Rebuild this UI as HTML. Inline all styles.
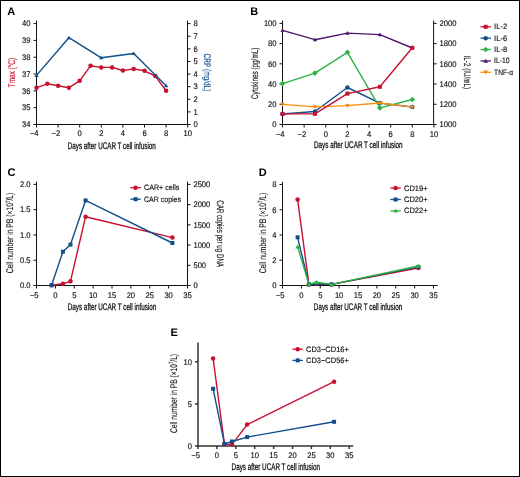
<!DOCTYPE html>
<html><head><meta charset="utf-8"><style>
html,body{margin:0;padding:0;background:#fff;}
svg{display:block;font-family:"Liberation Sans",sans-serif;will-change:transform;text-rendering:geometricPrecision;}
</style></head><body>
<svg width="520" height="477" viewBox="0 0 520 477">
<rect x="0" y="0" width="520" height="477" fill="#fff"/>
<rect x="0.5" y="0.5" width="519" height="476" fill="none" stroke="#000" stroke-width="1"/>
<text x="7.30" y="14.70" font-size="11" text-anchor="start" fill="#000" font-weight="bold">A</text>
<line x1="36.50" y1="20.70" x2="36.50" y2="125.00" stroke="#111" stroke-width="1.0"/>
<line x1="36.00" y1="124.50" x2="188.00" y2="124.50" stroke="#111" stroke-width="1.0"/>
<line x1="187.50" y1="20.70" x2="187.50" y2="125.00" stroke="#111" stroke-width="1.0"/>
<line x1="36.50" y1="124.50" x2="36.50" y2="127.50" stroke="#111" stroke-width="1.0"/>
<text x="38.62" y="135.80" font-size="8.2" text-anchor="end" fill="#111" font-weight="normal" stroke="#111" stroke-width="0.15" textLength="8.69" lengthAdjust="spacingAndGlyphs">−4</text>
<line x1="58.10" y1="124.50" x2="58.10" y2="127.50" stroke="#111" stroke-width="1.0"/>
<text x="60.22" y="135.80" font-size="8.2" text-anchor="end" fill="#111" font-weight="normal" stroke="#111" stroke-width="0.15" textLength="8.69" lengthAdjust="spacingAndGlyphs">−2</text>
<line x1="79.70" y1="124.50" x2="79.70" y2="127.50" stroke="#111" stroke-width="1.0"/>
<text x="79.70" y="135.80" font-size="8.2" text-anchor="middle" fill="#111" font-weight="normal" stroke="#111" stroke-width="0.15" textLength="4.24" lengthAdjust="spacingAndGlyphs">0</text>
<line x1="101.30" y1="124.50" x2="101.30" y2="127.50" stroke="#111" stroke-width="1.0"/>
<text x="101.30" y="135.80" font-size="8.2" text-anchor="middle" fill="#111" font-weight="normal" stroke="#111" stroke-width="0.15" textLength="4.24" lengthAdjust="spacingAndGlyphs">2</text>
<line x1="122.90" y1="124.50" x2="122.90" y2="127.50" stroke="#111" stroke-width="1.0"/>
<text x="122.90" y="135.80" font-size="8.2" text-anchor="middle" fill="#111" font-weight="normal" stroke="#111" stroke-width="0.15" textLength="4.24" lengthAdjust="spacingAndGlyphs">4</text>
<line x1="144.50" y1="124.50" x2="144.50" y2="127.50" stroke="#111" stroke-width="1.0"/>
<text x="144.50" y="135.80" font-size="8.2" text-anchor="middle" fill="#111" font-weight="normal" stroke="#111" stroke-width="0.15" textLength="4.24" lengthAdjust="spacingAndGlyphs">6</text>
<line x1="166.10" y1="124.50" x2="166.10" y2="127.50" stroke="#111" stroke-width="1.0"/>
<text x="166.10" y="135.80" font-size="8.2" text-anchor="middle" fill="#111" font-weight="normal" stroke="#111" stroke-width="0.15" textLength="4.24" lengthAdjust="spacingAndGlyphs">8</text>
<line x1="187.70" y1="124.50" x2="187.70" y2="127.50" stroke="#111" stroke-width="1.0"/>
<text x="187.70" y="135.80" font-size="8.2" text-anchor="middle" fill="#111" font-weight="normal" stroke="#111" stroke-width="0.15" textLength="8.48" lengthAdjust="spacingAndGlyphs">10</text>
<line x1="33.50" y1="124.50" x2="36.50" y2="124.50" stroke="#111" stroke-width="1.0"/>
<text x="30.60" y="127.30" font-size="8.2" text-anchor="end" fill="#111" font-weight="normal" stroke="#111" stroke-width="0.15" textLength="8.48" lengthAdjust="spacingAndGlyphs">34</text>
<line x1="33.50" y1="107.68" x2="36.50" y2="107.68" stroke="#111" stroke-width="1.0"/>
<text x="30.60" y="110.48" font-size="8.2" text-anchor="end" fill="#111" font-weight="normal" stroke="#111" stroke-width="0.15" textLength="8.48" lengthAdjust="spacingAndGlyphs">35</text>
<line x1="33.50" y1="90.86" x2="36.50" y2="90.86" stroke="#111" stroke-width="1.0"/>
<text x="30.60" y="93.66" font-size="8.2" text-anchor="end" fill="#111" font-weight="normal" stroke="#111" stroke-width="0.15" textLength="8.48" lengthAdjust="spacingAndGlyphs">36</text>
<line x1="33.50" y1="74.04" x2="36.50" y2="74.04" stroke="#111" stroke-width="1.0"/>
<text x="30.60" y="76.84" font-size="8.2" text-anchor="end" fill="#111" font-weight="normal" stroke="#111" stroke-width="0.15" textLength="8.48" lengthAdjust="spacingAndGlyphs">37</text>
<line x1="33.50" y1="57.22" x2="36.50" y2="57.22" stroke="#111" stroke-width="1.0"/>
<text x="30.60" y="60.02" font-size="8.2" text-anchor="end" fill="#111" font-weight="normal" stroke="#111" stroke-width="0.15" textLength="8.48" lengthAdjust="spacingAndGlyphs">38</text>
<line x1="33.50" y1="40.40" x2="36.50" y2="40.40" stroke="#111" stroke-width="1.0"/>
<text x="30.60" y="43.20" font-size="8.2" text-anchor="end" fill="#111" font-weight="normal" stroke="#111" stroke-width="0.15" textLength="8.48" lengthAdjust="spacingAndGlyphs">39</text>
<line x1="33.50" y1="23.58" x2="36.50" y2="23.58" stroke="#111" stroke-width="1.0"/>
<text x="30.60" y="26.38" font-size="8.2" text-anchor="end" fill="#111" font-weight="normal" stroke="#111" stroke-width="0.15" textLength="8.48" lengthAdjust="spacingAndGlyphs">40</text>
<line x1="187.50" y1="124.50" x2="190.50" y2="124.50" stroke="#111" stroke-width="1.0"/>
<text x="193.40" y="127.30" font-size="8.2" text-anchor="start" fill="#111" font-weight="normal" stroke="#111" stroke-width="0.15" textLength="4.24" lengthAdjust="spacingAndGlyphs">0</text>
<line x1="187.50" y1="111.89" x2="190.50" y2="111.89" stroke="#111" stroke-width="1.0"/>
<text x="193.40" y="114.69" font-size="8.2" text-anchor="start" fill="#111" font-weight="normal" stroke="#111" stroke-width="0.15" textLength="4.24" lengthAdjust="spacingAndGlyphs">1</text>
<line x1="187.50" y1="99.28" x2="190.50" y2="99.28" stroke="#111" stroke-width="1.0"/>
<text x="193.40" y="102.08" font-size="8.2" text-anchor="start" fill="#111" font-weight="normal" stroke="#111" stroke-width="0.15" textLength="4.24" lengthAdjust="spacingAndGlyphs">2</text>
<line x1="187.50" y1="86.67" x2="190.50" y2="86.67" stroke="#111" stroke-width="1.0"/>
<text x="193.40" y="89.47" font-size="8.2" text-anchor="start" fill="#111" font-weight="normal" stroke="#111" stroke-width="0.15" textLength="4.24" lengthAdjust="spacingAndGlyphs">3</text>
<line x1="187.50" y1="74.06" x2="190.50" y2="74.06" stroke="#111" stroke-width="1.0"/>
<text x="193.40" y="76.86" font-size="8.2" text-anchor="start" fill="#111" font-weight="normal" stroke="#111" stroke-width="0.15" textLength="4.24" lengthAdjust="spacingAndGlyphs">4</text>
<line x1="187.50" y1="61.45" x2="190.50" y2="61.45" stroke="#111" stroke-width="1.0"/>
<text x="193.40" y="64.25" font-size="8.2" text-anchor="start" fill="#111" font-weight="normal" stroke="#111" stroke-width="0.15" textLength="4.24" lengthAdjust="spacingAndGlyphs">5</text>
<line x1="187.50" y1="48.84" x2="190.50" y2="48.84" stroke="#111" stroke-width="1.0"/>
<text x="193.40" y="51.64" font-size="8.2" text-anchor="start" fill="#111" font-weight="normal" stroke="#111" stroke-width="0.15" textLength="4.24" lengthAdjust="spacingAndGlyphs">6</text>
<line x1="187.50" y1="36.23" x2="190.50" y2="36.23" stroke="#111" stroke-width="1.0"/>
<text x="193.40" y="39.03" font-size="8.2" text-anchor="start" fill="#111" font-weight="normal" stroke="#111" stroke-width="0.15" textLength="4.24" lengthAdjust="spacingAndGlyphs">7</text>
<line x1="187.50" y1="23.62" x2="190.50" y2="23.62" stroke="#111" stroke-width="1.0"/>
<text x="193.40" y="26.42" font-size="8.2" text-anchor="start" fill="#111" font-weight="normal" stroke="#111" stroke-width="0.15" textLength="4.24" lengthAdjust="spacingAndGlyphs">8</text>
<text x="0" y="0" font-size="9.6" text-anchor="middle" fill="#c8102e" stroke="#c8102e" stroke-width="0.12" transform="translate(15.10 72.60) rotate(-90) scale(0.6685 1)">Tmax (°C)</text>
<text x="0" y="0" font-size="9.6" text-anchor="middle" fill="#104e8c" stroke="#104e8c" stroke-width="0.12" transform="translate(204.40 72.50) rotate(90) scale(0.6806 1)">CRP (mg/dL)</text>
<text x="0" y="0" font-size="9.6" text-anchor="middle" fill="#111" stroke="#111" stroke-width="0.3" transform="translate(111.80 148.50) scale(0.6537 1)">Days after UCAR T cell infusion</text>
<polyline points="36.50,87.70 47.30,83.80 58.10,85.80 68.90,87.70 79.70,80.80 90.50,65.80 101.30,67.40 112.10,67.40 122.90,70.50 133.70,68.90 144.50,70.80 155.30,76.00 166.10,90.80" fill="none" stroke="#c8102e" stroke-width="1.4" stroke-linejoin="round"/>
<circle cx="36.50" cy="87.70" r="2.25" fill="#c8102e"/>
<circle cx="47.30" cy="83.80" r="2.25" fill="#c8102e"/>
<circle cx="58.10" cy="85.80" r="2.25" fill="#c8102e"/>
<circle cx="68.90" cy="87.70" r="2.25" fill="#c8102e"/>
<circle cx="79.70" cy="80.80" r="2.25" fill="#c8102e"/>
<circle cx="90.50" cy="65.80" r="2.25" fill="#c8102e"/>
<circle cx="101.30" cy="67.40" r="2.25" fill="#c8102e"/>
<circle cx="112.10" cy="67.40" r="2.25" fill="#c8102e"/>
<circle cx="122.90" cy="70.50" r="2.25" fill="#c8102e"/>
<circle cx="133.70" cy="68.90" r="2.25" fill="#c8102e"/>
<circle cx="144.50" cy="70.80" r="2.25" fill="#c8102e"/>
<circle cx="155.30" cy="76.00" r="2.25" fill="#c8102e"/>
<circle cx="166.10" cy="90.80" r="2.25" fill="#c8102e"/>
<polyline points="36.50,75.40 68.90,37.70 101.30,57.80 133.70,53.50 166.10,85.80" fill="none" stroke="#104e8c" stroke-width="1.4" stroke-linejoin="round"/>
<polygon points="36.50,73.33 38.67,76.95 34.33,76.95" fill="#104e8c"/>
<polygon points="68.90,35.63 71.07,39.25 66.73,39.25" fill="#104e8c"/>
<polygon points="101.30,55.73 103.47,59.35 99.13,59.35" fill="#104e8c"/>
<polygon points="133.70,51.43 135.87,55.05 131.53,55.05" fill="#104e8c"/>
<polygon points="166.10,83.73 168.27,87.35 163.93,87.35" fill="#104e8c"/>
<text x="250.30" y="14.50" font-size="11" text-anchor="start" fill="#000" font-weight="bold">B</text>
<line x1="282.50" y1="20.60" x2="282.50" y2="125.00" stroke="#111" stroke-width="1.0"/>
<line x1="282.00" y1="124.50" x2="434.10" y2="124.50" stroke="#111" stroke-width="1.0"/>
<line x1="433.60" y1="20.60" x2="433.60" y2="125.00" stroke="#111" stroke-width="1.0"/>
<line x1="282.50" y1="124.50" x2="282.50" y2="127.50" stroke="#111" stroke-width="1.0"/>
<text x="284.62" y="136.60" font-size="8.2" text-anchor="end" fill="#111" font-weight="normal" stroke="#111" stroke-width="0.15" textLength="8.69" lengthAdjust="spacingAndGlyphs">−4</text>
<line x1="304.14" y1="124.50" x2="304.14" y2="127.50" stroke="#111" stroke-width="1.0"/>
<text x="306.26" y="136.60" font-size="8.2" text-anchor="end" fill="#111" font-weight="normal" stroke="#111" stroke-width="0.15" textLength="8.69" lengthAdjust="spacingAndGlyphs">−2</text>
<line x1="325.78" y1="124.50" x2="325.78" y2="127.50" stroke="#111" stroke-width="1.0"/>
<text x="325.78" y="136.60" font-size="8.2" text-anchor="middle" fill="#111" font-weight="normal" stroke="#111" stroke-width="0.15" textLength="4.24" lengthAdjust="spacingAndGlyphs">0</text>
<line x1="347.42" y1="124.50" x2="347.42" y2="127.50" stroke="#111" stroke-width="1.0"/>
<text x="347.42" y="136.60" font-size="8.2" text-anchor="middle" fill="#111" font-weight="normal" stroke="#111" stroke-width="0.15" textLength="4.24" lengthAdjust="spacingAndGlyphs">2</text>
<line x1="369.06" y1="124.50" x2="369.06" y2="127.50" stroke="#111" stroke-width="1.0"/>
<text x="369.06" y="136.60" font-size="8.2" text-anchor="middle" fill="#111" font-weight="normal" stroke="#111" stroke-width="0.15" textLength="4.24" lengthAdjust="spacingAndGlyphs">4</text>
<line x1="390.70" y1="124.50" x2="390.70" y2="127.50" stroke="#111" stroke-width="1.0"/>
<text x="390.70" y="136.60" font-size="8.2" text-anchor="middle" fill="#111" font-weight="normal" stroke="#111" stroke-width="0.15" textLength="4.24" lengthAdjust="spacingAndGlyphs">6</text>
<line x1="412.34" y1="124.50" x2="412.34" y2="127.50" stroke="#111" stroke-width="1.0"/>
<text x="412.34" y="136.60" font-size="8.2" text-anchor="middle" fill="#111" font-weight="normal" stroke="#111" stroke-width="0.15" textLength="4.24" lengthAdjust="spacingAndGlyphs">8</text>
<line x1="433.98" y1="124.50" x2="433.98" y2="127.50" stroke="#111" stroke-width="1.0"/>
<text x="433.98" y="136.60" font-size="8.2" text-anchor="middle" fill="#111" font-weight="normal" stroke="#111" stroke-width="0.15" textLength="8.48" lengthAdjust="spacingAndGlyphs">10</text>
<line x1="279.50" y1="124.50" x2="282.50" y2="124.50" stroke="#111" stroke-width="1.0"/>
<text x="276.60" y="127.30" font-size="8.2" text-anchor="end" fill="#111" font-weight="normal" stroke="#111" stroke-width="0.15" textLength="4.24" lengthAdjust="spacingAndGlyphs">0</text>
<line x1="279.50" y1="104.28" x2="282.50" y2="104.28" stroke="#111" stroke-width="1.0"/>
<text x="276.60" y="107.08" font-size="8.2" text-anchor="end" fill="#111" font-weight="normal" stroke="#111" stroke-width="0.15" textLength="8.48" lengthAdjust="spacingAndGlyphs">20</text>
<line x1="279.50" y1="84.06" x2="282.50" y2="84.06" stroke="#111" stroke-width="1.0"/>
<text x="276.60" y="86.86" font-size="8.2" text-anchor="end" fill="#111" font-weight="normal" stroke="#111" stroke-width="0.15" textLength="8.48" lengthAdjust="spacingAndGlyphs">40</text>
<line x1="279.50" y1="63.84" x2="282.50" y2="63.84" stroke="#111" stroke-width="1.0"/>
<text x="276.60" y="66.64" font-size="8.2" text-anchor="end" fill="#111" font-weight="normal" stroke="#111" stroke-width="0.15" textLength="8.48" lengthAdjust="spacingAndGlyphs">60</text>
<line x1="279.50" y1="43.62" x2="282.50" y2="43.62" stroke="#111" stroke-width="1.0"/>
<text x="276.60" y="46.42" font-size="8.2" text-anchor="end" fill="#111" font-weight="normal" stroke="#111" stroke-width="0.15" textLength="8.48" lengthAdjust="spacingAndGlyphs">80</text>
<line x1="279.50" y1="23.40" x2="282.50" y2="23.40" stroke="#111" stroke-width="1.0"/>
<text x="276.60" y="26.20" font-size="8.2" text-anchor="end" fill="#111" font-weight="normal" stroke="#111" stroke-width="0.15" textLength="12.72" lengthAdjust="spacingAndGlyphs">100</text>
<line x1="433.60" y1="124.50" x2="436.60" y2="124.50" stroke="#111" stroke-width="1.0"/>
<text x="439.50" y="127.30" font-size="8.2" text-anchor="start" fill="#111" font-weight="normal" stroke="#111" stroke-width="0.15" textLength="16.96" lengthAdjust="spacingAndGlyphs">1000</text>
<line x1="433.60" y1="104.28" x2="436.60" y2="104.28" stroke="#111" stroke-width="1.0"/>
<text x="439.50" y="107.08" font-size="8.2" text-anchor="start" fill="#111" font-weight="normal" stroke="#111" stroke-width="0.15" textLength="16.96" lengthAdjust="spacingAndGlyphs">1200</text>
<line x1="433.60" y1="84.06" x2="436.60" y2="84.06" stroke="#111" stroke-width="1.0"/>
<text x="439.50" y="86.86" font-size="8.2" text-anchor="start" fill="#111" font-weight="normal" stroke="#111" stroke-width="0.15" textLength="16.96" lengthAdjust="spacingAndGlyphs">1400</text>
<line x1="433.60" y1="63.84" x2="436.60" y2="63.84" stroke="#111" stroke-width="1.0"/>
<text x="439.50" y="66.64" font-size="8.2" text-anchor="start" fill="#111" font-weight="normal" stroke="#111" stroke-width="0.15" textLength="16.96" lengthAdjust="spacingAndGlyphs">1600</text>
<line x1="433.60" y1="43.62" x2="436.60" y2="43.62" stroke="#111" stroke-width="1.0"/>
<text x="439.50" y="46.42" font-size="8.2" text-anchor="start" fill="#111" font-weight="normal" stroke="#111" stroke-width="0.15" textLength="16.96" lengthAdjust="spacingAndGlyphs">1800</text>
<line x1="433.60" y1="23.40" x2="436.60" y2="23.40" stroke="#111" stroke-width="1.0"/>
<text x="439.50" y="26.20" font-size="8.2" text-anchor="start" fill="#111" font-weight="normal" stroke="#111" stroke-width="0.15" textLength="16.96" lengthAdjust="spacingAndGlyphs">2000</text>
<text x="0" y="0" font-size="9.6" text-anchor="middle" fill="#111" stroke="#111" stroke-width="0.12" transform="translate(257.80 73.40) rotate(-90) scale(0.6599 1)">Cytokines (pg/mL)</text>
<text x="0" y="0" font-size="9.6" text-anchor="middle" fill="#111" stroke="#111" stroke-width="0.12" transform="translate(463.80 72.40) rotate(90) scale(0.6562 1)">IL-2 (IU/mL)</text>
<text x="0" y="0" font-size="9.6" text-anchor="middle" fill="#111" stroke="#111" stroke-width="0.3" transform="translate(358.30 147.90) scale(0.6581 1)">Days after UCAR T cell infusion</text>
<polyline points="282.50,114.00 314.96,111.50 347.42,87.50 379.88,103.10 412.34,107.00" fill="none" stroke="#104e8c" stroke-width="1.4" stroke-linejoin="round"/>
<circle cx="282.50" cy="114.00" r="2.25" fill="#104e8c"/>
<circle cx="314.96" cy="111.50" r="2.25" fill="#104e8c"/>
<circle cx="347.42" cy="87.50" r="2.25" fill="#104e8c"/>
<circle cx="379.88" cy="103.10" r="2.25" fill="#104e8c"/>
<circle cx="412.34" cy="107.00" r="2.25" fill="#104e8c"/>
<polyline points="282.50,83.60 314.96,73.10 347.42,52.30 379.88,107.90 412.34,99.50" fill="none" stroke="#2db444" stroke-width="1.4" stroke-linejoin="round"/>
<polygon points="282.50,80.80 285.30,83.60 282.50,86.40 279.70,83.60" fill="#2db444"/>
<polygon points="314.96,70.30 317.76,73.10 314.96,75.90 312.16,73.10" fill="#2db444"/>
<polygon points="347.42,49.50 350.22,52.30 347.42,55.10 344.62,52.30" fill="#2db444"/>
<polygon points="379.88,105.10 382.68,107.90 379.88,110.70 377.08,107.90" fill="#2db444"/>
<polygon points="412.34,96.70 415.14,99.50 412.34,102.30 409.54,99.50" fill="#2db444"/>
<polyline points="282.50,30.30 314.96,39.70 347.42,33.10 379.88,34.60 412.34,48.00" fill="none" stroke="#4e1670" stroke-width="1.4" stroke-linejoin="round"/>
<polygon points="282.50,28.23 284.67,31.85 280.33,31.85" fill="#4e1670"/>
<polygon points="314.96,37.63 317.13,41.25 312.79,41.25" fill="#4e1670"/>
<polygon points="347.42,31.03 349.59,34.65 345.25,34.65" fill="#4e1670"/>
<polygon points="379.88,32.53 382.05,36.15 377.71,36.15" fill="#4e1670"/>
<polygon points="412.34,45.93 414.51,49.55 410.17,49.55" fill="#4e1670"/>
<polyline points="282.50,104.40 314.96,106.90 347.42,105.60 379.88,103.00 412.34,107.10" fill="none" stroke="#fb8c10" stroke-width="1.4" stroke-linejoin="round"/>
<polygon points="282.50,106.47 284.67,102.85 280.33,102.85" fill="#fb8c10"/>
<polygon points="314.96,108.97 317.13,105.35 312.79,105.35" fill="#fb8c10"/>
<polygon points="347.42,107.67 349.59,104.05 345.25,104.05" fill="#fb8c10"/>
<polygon points="379.88,105.07 382.05,101.45 377.71,101.45" fill="#fb8c10"/>
<polygon points="412.34,109.17 414.51,105.55 410.17,105.55" fill="#fb8c10"/>
<polyline points="282.50,113.90 314.96,113.90 347.42,93.60 379.88,86.80 412.34,47.80" fill="none" stroke="#c8102e" stroke-width="1.4" stroke-linejoin="round"/>
<rect x="280.50" y="111.90" width="4.00" height="4.00" fill="#c8102e"/>
<rect x="312.96" y="111.90" width="4.00" height="4.00" fill="#c8102e"/>
<rect x="345.42" y="91.60" width="4.00" height="4.00" fill="#c8102e"/>
<rect x="377.88" y="84.80" width="4.00" height="4.00" fill="#c8102e"/>
<rect x="410.34" y="45.80" width="4.00" height="4.00" fill="#c8102e"/>
<line x1="480.50" y1="26.80" x2="490.90" y2="26.80" stroke="#c8102e" stroke-width="1.3"/>
<rect x="483.70" y="24.80" width="4.00" height="4.00" fill="#c8102e"/>
<text x="494.10" y="29.30" font-size="7.8" text-anchor="start" fill="#111" font-weight="normal" stroke="#111" stroke-width="0.15" textLength="13.00" lengthAdjust="spacingAndGlyphs">IL-2</text>
<line x1="480.50" y1="38.18" x2="490.90" y2="38.18" stroke="#104e8c" stroke-width="1.3"/>
<circle cx="485.70" cy="38.18" r="2.25" fill="#104e8c"/>
<text x="494.10" y="40.68" font-size="7.8" text-anchor="start" fill="#111" font-weight="normal" stroke="#111" stroke-width="0.15" textLength="13.00" lengthAdjust="spacingAndGlyphs">IL-6</text>
<line x1="480.50" y1="49.56" x2="490.90" y2="49.56" stroke="#2db444" stroke-width="1.3"/>
<polygon points="485.70,46.76 488.50,49.56 485.70,52.36 482.90,49.56" fill="#2db444"/>
<text x="494.10" y="52.06" font-size="7.8" text-anchor="start" fill="#111" font-weight="normal" stroke="#111" stroke-width="0.15" textLength="13.00" lengthAdjust="spacingAndGlyphs">IL-8</text>
<line x1="480.50" y1="60.94" x2="490.90" y2="60.94" stroke="#4e1670" stroke-width="1.3"/>
<polygon points="485.70,58.64 488.12,62.66 483.28,62.66" fill="#4e1670"/>
<text x="494.10" y="63.44" font-size="7.8" text-anchor="start" fill="#111" font-weight="normal" stroke="#111" stroke-width="0.15" textLength="15.50" lengthAdjust="spacingAndGlyphs">IL-10</text>
<line x1="480.50" y1="72.32" x2="490.90" y2="72.32" stroke="#fb8c10" stroke-width="1.3"/>
<polygon points="485.70,74.62 488.12,70.60 483.28,70.60" fill="#fb8c10"/>
<text x="494.10" y="74.82" font-size="7.8" text-anchor="start" fill="#111" font-weight="normal" stroke="#111" stroke-width="0.15" textLength="19.00" lengthAdjust="spacingAndGlyphs">TNF-α</text>
<text x="7.50" y="175.50" font-size="11" text-anchor="start" fill="#000" font-weight="bold">C</text>
<line x1="36.50" y1="181.60" x2="36.50" y2="286.00" stroke="#111" stroke-width="1.0"/>
<line x1="36.00" y1="285.50" x2="188.00" y2="285.50" stroke="#111" stroke-width="1.0"/>
<line x1="187.50" y1="181.60" x2="187.50" y2="286.00" stroke="#111" stroke-width="1.0"/>
<line x1="36.50" y1="285.50" x2="36.50" y2="288.50" stroke="#111" stroke-width="1.0"/>
<text x="38.62" y="297.60" font-size="8.2" text-anchor="end" fill="#111" font-weight="normal" stroke="#111" stroke-width="0.15" textLength="8.69" lengthAdjust="spacingAndGlyphs">−5</text>
<line x1="55.38" y1="285.50" x2="55.38" y2="288.50" stroke="#111" stroke-width="1.0"/>
<text x="55.38" y="297.60" font-size="8.2" text-anchor="middle" fill="#111" font-weight="normal" stroke="#111" stroke-width="0.15" textLength="4.24" lengthAdjust="spacingAndGlyphs">0</text>
<line x1="74.25" y1="285.50" x2="74.25" y2="288.50" stroke="#111" stroke-width="1.0"/>
<text x="74.25" y="297.60" font-size="8.2" text-anchor="middle" fill="#111" font-weight="normal" stroke="#111" stroke-width="0.15" textLength="4.24" lengthAdjust="spacingAndGlyphs">5</text>
<line x1="93.12" y1="285.50" x2="93.12" y2="288.50" stroke="#111" stroke-width="1.0"/>
<text x="93.12" y="297.60" font-size="8.2" text-anchor="middle" fill="#111" font-weight="normal" stroke="#111" stroke-width="0.15" textLength="8.48" lengthAdjust="spacingAndGlyphs">10</text>
<line x1="112.00" y1="285.50" x2="112.00" y2="288.50" stroke="#111" stroke-width="1.0"/>
<text x="112.00" y="297.60" font-size="8.2" text-anchor="middle" fill="#111" font-weight="normal" stroke="#111" stroke-width="0.15" textLength="8.48" lengthAdjust="spacingAndGlyphs">15</text>
<line x1="130.88" y1="285.50" x2="130.88" y2="288.50" stroke="#111" stroke-width="1.0"/>
<text x="130.88" y="297.60" font-size="8.2" text-anchor="middle" fill="#111" font-weight="normal" stroke="#111" stroke-width="0.15" textLength="8.48" lengthAdjust="spacingAndGlyphs">20</text>
<line x1="149.75" y1="285.50" x2="149.75" y2="288.50" stroke="#111" stroke-width="1.0"/>
<text x="149.75" y="297.60" font-size="8.2" text-anchor="middle" fill="#111" font-weight="normal" stroke="#111" stroke-width="0.15" textLength="8.48" lengthAdjust="spacingAndGlyphs">25</text>
<line x1="168.62" y1="285.50" x2="168.62" y2="288.50" stroke="#111" stroke-width="1.0"/>
<text x="168.62" y="297.60" font-size="8.2" text-anchor="middle" fill="#111" font-weight="normal" stroke="#111" stroke-width="0.15" textLength="8.48" lengthAdjust="spacingAndGlyphs">30</text>
<line x1="187.50" y1="285.50" x2="187.50" y2="288.50" stroke="#111" stroke-width="1.0"/>
<text x="187.50" y="297.60" font-size="8.2" text-anchor="middle" fill="#111" font-weight="normal" stroke="#111" stroke-width="0.15" textLength="8.48" lengthAdjust="spacingAndGlyphs">35</text>
<line x1="33.50" y1="285.50" x2="36.50" y2="285.50" stroke="#111" stroke-width="1.0"/>
<text x="30.60" y="288.30" font-size="8.2" text-anchor="end" fill="#111" font-weight="normal" stroke="#111" stroke-width="0.15" textLength="10.60" lengthAdjust="spacingAndGlyphs">0.0</text>
<line x1="33.50" y1="260.22" x2="36.50" y2="260.22" stroke="#111" stroke-width="1.0"/>
<text x="30.60" y="263.02" font-size="8.2" text-anchor="end" fill="#111" font-weight="normal" stroke="#111" stroke-width="0.15" textLength="10.60" lengthAdjust="spacingAndGlyphs">0.5</text>
<line x1="33.50" y1="234.94" x2="36.50" y2="234.94" stroke="#111" stroke-width="1.0"/>
<text x="30.60" y="237.74" font-size="8.2" text-anchor="end" fill="#111" font-weight="normal" stroke="#111" stroke-width="0.15" textLength="10.60" lengthAdjust="spacingAndGlyphs">1.0</text>
<line x1="33.50" y1="209.66" x2="36.50" y2="209.66" stroke="#111" stroke-width="1.0"/>
<text x="30.60" y="212.46" font-size="8.2" text-anchor="end" fill="#111" font-weight="normal" stroke="#111" stroke-width="0.15" textLength="10.60" lengthAdjust="spacingAndGlyphs">1.5</text>
<line x1="33.50" y1="184.38" x2="36.50" y2="184.38" stroke="#111" stroke-width="1.0"/>
<text x="30.60" y="187.18" font-size="8.2" text-anchor="end" fill="#111" font-weight="normal" stroke="#111" stroke-width="0.15" textLength="10.60" lengthAdjust="spacingAndGlyphs">2.0</text>
<line x1="187.50" y1="285.50" x2="190.50" y2="285.50" stroke="#111" stroke-width="1.0"/>
<text x="193.40" y="288.30" font-size="8.2" text-anchor="start" fill="#111" font-weight="normal" stroke="#111" stroke-width="0.15" textLength="4.24" lengthAdjust="spacingAndGlyphs">0</text>
<line x1="187.50" y1="265.28" x2="190.50" y2="265.28" stroke="#111" stroke-width="1.0"/>
<text x="193.40" y="268.08" font-size="8.2" text-anchor="start" fill="#111" font-weight="normal" stroke="#111" stroke-width="0.15" textLength="12.72" lengthAdjust="spacingAndGlyphs">500</text>
<line x1="187.50" y1="245.06" x2="190.50" y2="245.06" stroke="#111" stroke-width="1.0"/>
<text x="193.40" y="247.86" font-size="8.2" text-anchor="start" fill="#111" font-weight="normal" stroke="#111" stroke-width="0.15" textLength="16.96" lengthAdjust="spacingAndGlyphs">1000</text>
<line x1="187.50" y1="224.84" x2="190.50" y2="224.84" stroke="#111" stroke-width="1.0"/>
<text x="193.40" y="227.64" font-size="8.2" text-anchor="start" fill="#111" font-weight="normal" stroke="#111" stroke-width="0.15" textLength="16.96" lengthAdjust="spacingAndGlyphs">1500</text>
<line x1="187.50" y1="204.62" x2="190.50" y2="204.62" stroke="#111" stroke-width="1.0"/>
<text x="193.40" y="207.42" font-size="8.2" text-anchor="start" fill="#111" font-weight="normal" stroke="#111" stroke-width="0.15" textLength="16.96" lengthAdjust="spacingAndGlyphs">2000</text>
<line x1="187.50" y1="184.40" x2="190.50" y2="184.40" stroke="#111" stroke-width="1.0"/>
<text x="193.40" y="187.20" font-size="8.2" text-anchor="start" fill="#111" font-weight="normal" stroke="#111" stroke-width="0.15" textLength="16.96" lengthAdjust="spacingAndGlyphs">2500</text>
<text x="0" y="0" font-size="9.6" text-anchor="middle" fill="#111" stroke="#111" stroke-width="0.12" transform="translate(13.20 233.00) rotate(-90) scale(0.7076 1)">Cell number in PB (×10<tspan font-size="6" dy="-3.6">7</tspan><tspan dy="3.6">/L)</tspan></text>
<text x="0" y="0" font-size="9.6" text-anchor="middle" fill="#111" stroke="#111" stroke-width="0.12" transform="translate(216.80 233.60) rotate(90) scale(0.6454 1)">CAR copies per ug DNA</text>
<text x="0" y="0" font-size="9.6" text-anchor="middle" fill="#111" stroke="#111" stroke-width="0.3" transform="translate(112.00 309.80) scale(0.6581 1)">Days after UCAR T cell infusion</text>
<polyline points="51.60,285.20 62.92,283.80 70.47,281.30 85.57,216.70 172.40,237.60" fill="none" stroke="#c8102e" stroke-width="1.4" stroke-linejoin="round"/>
<circle cx="51.60" cy="285.20" r="2.25" fill="#c8102e"/>
<circle cx="62.92" cy="283.80" r="2.25" fill="#c8102e"/>
<circle cx="70.47" cy="281.30" r="2.25" fill="#c8102e"/>
<circle cx="85.57" cy="216.70" r="2.25" fill="#c8102e"/>
<circle cx="172.40" cy="237.60" r="2.25" fill="#c8102e"/>
<polyline points="51.60,285.20 62.92,251.70 70.47,244.60 85.57,200.40 172.40,243.00" fill="none" stroke="#104e8c" stroke-width="1.4" stroke-linejoin="round"/>
<rect x="49.60" y="283.20" width="4.00" height="4.00" fill="#104e8c"/>
<rect x="60.92" y="249.70" width="4.00" height="4.00" fill="#104e8c"/>
<rect x="68.47" y="242.60" width="4.00" height="4.00" fill="#104e8c"/>
<rect x="83.57" y="198.40" width="4.00" height="4.00" fill="#104e8c"/>
<rect x="170.40" y="241.00" width="4.00" height="4.00" fill="#104e8c"/>
<line x1="130.40" y1="187.70" x2="140.80" y2="187.70" stroke="#c8102e" stroke-width="1.3"/>
<circle cx="135.60" cy="187.70" r="2.25" fill="#c8102e"/>
<text x="144.00" y="190.20" font-size="7.8" text-anchor="start" fill="#111" font-weight="normal" stroke="#111" stroke-width="0.15" textLength="35.40" lengthAdjust="spacingAndGlyphs">CAR+ cells</text>
<line x1="130.40" y1="199.20" x2="140.80" y2="199.20" stroke="#104e8c" stroke-width="1.3"/>
<rect x="133.60" y="197.20" width="4.00" height="4.00" fill="#104e8c"/>
<text x="144.00" y="201.70" font-size="7.8" text-anchor="start" fill="#111" font-weight="normal" stroke="#111" stroke-width="0.15" textLength="37.00" lengthAdjust="spacingAndGlyphs">CAR copies</text>
<text x="258.70" y="175.50" font-size="11" text-anchor="start" fill="#000" font-weight="bold">D</text>
<line x1="282.50" y1="181.70" x2="282.50" y2="286.00" stroke="#111" stroke-width="1.0"/>
<line x1="282.00" y1="285.50" x2="437.70" y2="285.50" stroke="#111" stroke-width="1.0"/>
<line x1="282.50" y1="285.50" x2="282.50" y2="288.50" stroke="#111" stroke-width="1.0"/>
<text x="284.62" y="297.60" font-size="8.2" text-anchor="end" fill="#111" font-weight="normal" stroke="#111" stroke-width="0.15" textLength="8.69" lengthAdjust="spacingAndGlyphs">−5</text>
<line x1="301.38" y1="285.50" x2="301.38" y2="288.50" stroke="#111" stroke-width="1.0"/>
<text x="301.38" y="297.60" font-size="8.2" text-anchor="middle" fill="#111" font-weight="normal" stroke="#111" stroke-width="0.15" textLength="4.24" lengthAdjust="spacingAndGlyphs">0</text>
<line x1="320.25" y1="285.50" x2="320.25" y2="288.50" stroke="#111" stroke-width="1.0"/>
<text x="320.25" y="297.60" font-size="8.2" text-anchor="middle" fill="#111" font-weight="normal" stroke="#111" stroke-width="0.15" textLength="4.24" lengthAdjust="spacingAndGlyphs">5</text>
<line x1="339.12" y1="285.50" x2="339.12" y2="288.50" stroke="#111" stroke-width="1.0"/>
<text x="339.12" y="297.60" font-size="8.2" text-anchor="middle" fill="#111" font-weight="normal" stroke="#111" stroke-width="0.15" textLength="8.48" lengthAdjust="spacingAndGlyphs">10</text>
<line x1="358.00" y1="285.50" x2="358.00" y2="288.50" stroke="#111" stroke-width="1.0"/>
<text x="358.00" y="297.60" font-size="8.2" text-anchor="middle" fill="#111" font-weight="normal" stroke="#111" stroke-width="0.15" textLength="8.48" lengthAdjust="spacingAndGlyphs">15</text>
<line x1="376.88" y1="285.50" x2="376.88" y2="288.50" stroke="#111" stroke-width="1.0"/>
<text x="376.88" y="297.60" font-size="8.2" text-anchor="middle" fill="#111" font-weight="normal" stroke="#111" stroke-width="0.15" textLength="8.48" lengthAdjust="spacingAndGlyphs">20</text>
<line x1="395.75" y1="285.50" x2="395.75" y2="288.50" stroke="#111" stroke-width="1.0"/>
<text x="395.75" y="297.60" font-size="8.2" text-anchor="middle" fill="#111" font-weight="normal" stroke="#111" stroke-width="0.15" textLength="8.48" lengthAdjust="spacingAndGlyphs">25</text>
<line x1="414.62" y1="285.50" x2="414.62" y2="288.50" stroke="#111" stroke-width="1.0"/>
<text x="414.62" y="297.60" font-size="8.2" text-anchor="middle" fill="#111" font-weight="normal" stroke="#111" stroke-width="0.15" textLength="8.48" lengthAdjust="spacingAndGlyphs">30</text>
<line x1="433.50" y1="285.50" x2="433.50" y2="288.50" stroke="#111" stroke-width="1.0"/>
<text x="433.50" y="297.60" font-size="8.2" text-anchor="middle" fill="#111" font-weight="normal" stroke="#111" stroke-width="0.15" textLength="8.48" lengthAdjust="spacingAndGlyphs">35</text>
<line x1="279.50" y1="285.50" x2="282.50" y2="285.50" stroke="#111" stroke-width="1.0"/>
<text x="276.60" y="288.30" font-size="8.2" text-anchor="end" fill="#111" font-weight="normal" stroke="#111" stroke-width="0.15" textLength="4.24" lengthAdjust="spacingAndGlyphs">0</text>
<line x1="279.50" y1="260.25" x2="282.50" y2="260.25" stroke="#111" stroke-width="1.0"/>
<text x="276.60" y="263.05" font-size="8.2" text-anchor="end" fill="#111" font-weight="normal" stroke="#111" stroke-width="0.15" textLength="4.24" lengthAdjust="spacingAndGlyphs">2</text>
<line x1="279.50" y1="235.00" x2="282.50" y2="235.00" stroke="#111" stroke-width="1.0"/>
<text x="276.60" y="237.80" font-size="8.2" text-anchor="end" fill="#111" font-weight="normal" stroke="#111" stroke-width="0.15" textLength="4.24" lengthAdjust="spacingAndGlyphs">4</text>
<line x1="279.50" y1="209.75" x2="282.50" y2="209.75" stroke="#111" stroke-width="1.0"/>
<text x="276.60" y="212.55" font-size="8.2" text-anchor="end" fill="#111" font-weight="normal" stroke="#111" stroke-width="0.15" textLength="4.24" lengthAdjust="spacingAndGlyphs">6</text>
<line x1="279.50" y1="184.50" x2="282.50" y2="184.50" stroke="#111" stroke-width="1.0"/>
<text x="276.60" y="187.30" font-size="8.2" text-anchor="end" fill="#111" font-weight="normal" stroke="#111" stroke-width="0.15" textLength="4.24" lengthAdjust="spacingAndGlyphs">8</text>
<text x="0" y="0" font-size="9.6" text-anchor="middle" fill="#111" stroke="#111" stroke-width="0.12" transform="translate(266.00 233.00) rotate(-90) scale(0.7076 1)">Cell number in PB (×10<tspan font-size="6" dy="-3.6">7</tspan><tspan dy="3.6">/L)</tspan></text>
<text x="0" y="0" font-size="9.6" text-anchor="middle" fill="#111" stroke="#111" stroke-width="0.3" transform="translate(358.00 309.80) scale(0.6566 1)">Days after UCAR T cell infusion</text>
<polyline points="297.60,199.40 308.93,284.40 316.48,284.00 331.57,284.40 418.40,268.00" fill="none" stroke="#c8102e" stroke-width="1.4" stroke-linejoin="round"/>
<circle cx="297.60" cy="199.40" r="2.25" fill="#c8102e"/>
<circle cx="308.93" cy="284.40" r="2.25" fill="#c8102e"/>
<circle cx="316.48" cy="284.00" r="2.25" fill="#c8102e"/>
<circle cx="331.57" cy="284.40" r="2.25" fill="#c8102e"/>
<circle cx="418.40" cy="268.00" r="2.25" fill="#c8102e"/>
<polyline points="297.60,237.30 308.93,284.40 316.48,283.60 331.57,284.40 418.40,266.90" fill="none" stroke="#104e8c" stroke-width="1.4" stroke-linejoin="round"/>
<rect x="295.60" y="235.30" width="4.00" height="4.00" fill="#104e8c"/>
<rect x="306.93" y="282.40" width="4.00" height="4.00" fill="#104e8c"/>
<rect x="314.48" y="281.60" width="4.00" height="4.00" fill="#104e8c"/>
<rect x="329.57" y="282.40" width="4.00" height="4.00" fill="#104e8c"/>
<rect x="416.40" y="264.90" width="4.00" height="4.00" fill="#104e8c"/>
<polyline points="297.60,246.90 308.93,284.40 316.48,282.20 331.57,284.40 418.40,266.00" fill="none" stroke="#2db444" stroke-width="1.4" stroke-linejoin="round"/>
<polygon points="297.60,244.60 300.02,248.62 295.19,248.62" fill="#2db444"/>
<polygon points="308.93,282.10 311.34,286.12 306.51,286.12" fill="#2db444"/>
<polygon points="316.48,279.90 318.89,283.93 314.06,283.93" fill="#2db444"/>
<polygon points="331.57,282.10 333.99,286.12 329.16,286.12" fill="#2db444"/>
<polygon points="418.40,263.70 420.81,267.73 415.98,267.73" fill="#2db444"/>
<line x1="390.40" y1="188.10" x2="400.80" y2="188.10" stroke="#c8102e" stroke-width="1.3"/>
<circle cx="395.60" cy="188.10" r="2.25" fill="#c8102e"/>
<text x="404.00" y="190.60" font-size="7.8" text-anchor="start" fill="#111" font-weight="normal" stroke="#111" stroke-width="0.15" textLength="23.60" lengthAdjust="spacingAndGlyphs">CD19+</text>
<line x1="390.40" y1="199.50" x2="400.80" y2="199.50" stroke="#104e8c" stroke-width="1.3"/>
<rect x="393.60" y="197.50" width="4.00" height="4.00" fill="#104e8c"/>
<text x="404.00" y="202.00" font-size="7.8" text-anchor="start" fill="#111" font-weight="normal" stroke="#111" stroke-width="0.15" textLength="23.60" lengthAdjust="spacingAndGlyphs">CD20+</text>
<line x1="390.40" y1="210.90" x2="400.80" y2="210.90" stroke="#2db444" stroke-width="1.3"/>
<polygon points="395.60,208.60 398.01,212.62 393.18,212.62" fill="#2db444"/>
<text x="404.00" y="213.40" font-size="7.8" text-anchor="start" fill="#111" font-weight="normal" stroke="#111" stroke-width="0.15" textLength="23.60" lengthAdjust="spacingAndGlyphs">CD22+</text>
<text x="170.60" y="336.20" font-size="11" text-anchor="start" fill="#000" font-weight="bold">E</text>
<line x1="198.00" y1="342.50" x2="198.00" y2="446.50" stroke="#333" stroke-width="1.5"/>
<line x1="197.50" y1="446.00" x2="353.30" y2="446.00" stroke="#333" stroke-width="1.5"/>
<line x1="198.00" y1="446.00" x2="198.00" y2="449.00" stroke="#333" stroke-width="1.5"/>
<text x="200.12" y="458.00" font-size="8.2" text-anchor="end" fill="#111" font-weight="normal" stroke="#111" stroke-width="0.15" textLength="8.69" lengthAdjust="spacingAndGlyphs">−5</text>
<line x1="216.90" y1="446.00" x2="216.90" y2="449.00" stroke="#333" stroke-width="1.5"/>
<text x="216.90" y="458.00" font-size="8.2" text-anchor="middle" fill="#111" font-weight="normal" stroke="#111" stroke-width="0.15" textLength="4.24" lengthAdjust="spacingAndGlyphs">0</text>
<line x1="235.80" y1="446.00" x2="235.80" y2="449.00" stroke="#333" stroke-width="1.5"/>
<text x="235.80" y="458.00" font-size="8.2" text-anchor="middle" fill="#111" font-weight="normal" stroke="#111" stroke-width="0.15" textLength="4.24" lengthAdjust="spacingAndGlyphs">5</text>
<line x1="254.70" y1="446.00" x2="254.70" y2="449.00" stroke="#333" stroke-width="1.5"/>
<text x="254.70" y="458.00" font-size="8.2" text-anchor="middle" fill="#111" font-weight="normal" stroke="#111" stroke-width="0.15" textLength="8.48" lengthAdjust="spacingAndGlyphs">10</text>
<line x1="273.60" y1="446.00" x2="273.60" y2="449.00" stroke="#333" stroke-width="1.5"/>
<text x="273.60" y="458.00" font-size="8.2" text-anchor="middle" fill="#111" font-weight="normal" stroke="#111" stroke-width="0.15" textLength="8.48" lengthAdjust="spacingAndGlyphs">15</text>
<line x1="292.50" y1="446.00" x2="292.50" y2="449.00" stroke="#333" stroke-width="1.5"/>
<text x="292.50" y="458.00" font-size="8.2" text-anchor="middle" fill="#111" font-weight="normal" stroke="#111" stroke-width="0.15" textLength="8.48" lengthAdjust="spacingAndGlyphs">20</text>
<line x1="311.40" y1="446.00" x2="311.40" y2="449.00" stroke="#333" stroke-width="1.5"/>
<text x="311.40" y="458.00" font-size="8.2" text-anchor="middle" fill="#111" font-weight="normal" stroke="#111" stroke-width="0.15" textLength="8.48" lengthAdjust="spacingAndGlyphs">25</text>
<line x1="330.30" y1="446.00" x2="330.30" y2="449.00" stroke="#333" stroke-width="1.5"/>
<text x="330.30" y="458.00" font-size="8.2" text-anchor="middle" fill="#111" font-weight="normal" stroke="#111" stroke-width="0.15" textLength="8.48" lengthAdjust="spacingAndGlyphs">30</text>
<line x1="349.20" y1="446.00" x2="349.20" y2="449.00" stroke="#333" stroke-width="1.5"/>
<text x="349.20" y="458.00" font-size="8.2" text-anchor="middle" fill="#111" font-weight="normal" stroke="#111" stroke-width="0.15" textLength="8.48" lengthAdjust="spacingAndGlyphs">35</text>
<line x1="195.00" y1="446.00" x2="198.00" y2="446.00" stroke="#333" stroke-width="1.5"/>
<text x="192.10" y="448.80" font-size="8.2" text-anchor="end" fill="#111" font-weight="normal" stroke="#111" stroke-width="0.15" textLength="4.24" lengthAdjust="spacingAndGlyphs">0</text>
<line x1="195.00" y1="403.90" x2="198.00" y2="403.90" stroke="#333" stroke-width="1.5"/>
<text x="192.10" y="406.70" font-size="8.2" text-anchor="end" fill="#111" font-weight="normal" stroke="#111" stroke-width="0.15" textLength="4.24" lengthAdjust="spacingAndGlyphs">5</text>
<line x1="195.00" y1="361.80" x2="198.00" y2="361.80" stroke="#333" stroke-width="1.5"/>
<text x="192.10" y="364.60" font-size="8.2" text-anchor="end" fill="#111" font-weight="normal" stroke="#111" stroke-width="0.15" textLength="8.48" lengthAdjust="spacingAndGlyphs">10</text>
<text x="0" y="0" font-size="9.6" text-anchor="middle" fill="#111" stroke="#111" stroke-width="0.12" transform="translate(177.00 393.50) rotate(-90) scale(0.6944 1)">Cell number in PB (×10<tspan font-size="6" dy="-3.6">7</tspan><tspan dy="3.6">/L)</tspan></text>
<text x="0" y="0" font-size="9.6" text-anchor="middle" fill="#111" stroke="#111" stroke-width="0.3" transform="translate(275.80 470.00) scale(0.6574 1)">Days after UCAR T cell infusion</text>
<polyline points="213.12,358.50 224.46,444.20 232.02,444.40 247.14,424.60 334.08,381.70" fill="none" stroke="#c8102e" stroke-width="1.4" stroke-linejoin="round"/>
<circle cx="213.12" cy="358.50" r="2.25" fill="#c8102e"/>
<circle cx="224.46" cy="444.20" r="2.25" fill="#c8102e"/>
<circle cx="232.02" cy="444.40" r="2.25" fill="#c8102e"/>
<circle cx="247.14" cy="424.60" r="2.25" fill="#c8102e"/>
<circle cx="334.08" cy="381.70" r="2.25" fill="#c8102e"/>
<polyline points="213.12,388.80 224.46,443.80 232.02,441.50 247.14,437.10 334.08,421.80" fill="none" stroke="#104e8c" stroke-width="1.4" stroke-linejoin="round"/>
<rect x="211.12" y="386.80" width="4.00" height="4.00" fill="#104e8c"/>
<rect x="222.46" y="441.80" width="4.00" height="4.00" fill="#104e8c"/>
<rect x="230.02" y="439.50" width="4.00" height="4.00" fill="#104e8c"/>
<rect x="245.14" y="435.10" width="4.00" height="4.00" fill="#104e8c"/>
<rect x="332.08" y="419.80" width="4.00" height="4.00" fill="#104e8c"/>
<line x1="292.50" y1="349.20" x2="302.90" y2="349.20" stroke="#c8102e" stroke-width="1.3"/>
<circle cx="297.70" cy="349.20" r="2.25" fill="#c8102e"/>
<text x="306.10" y="351.70" font-size="7.8" text-anchor="start" fill="#111" font-weight="normal" stroke="#111" stroke-width="0.15" textLength="42.70" lengthAdjust="spacingAndGlyphs">CD3−CD16+</text>
<line x1="292.50" y1="360.40" x2="302.90" y2="360.40" stroke="#104e8c" stroke-width="1.3"/>
<rect x="295.70" y="358.40" width="4.00" height="4.00" fill="#104e8c"/>
<text x="306.10" y="362.90" font-size="7.8" text-anchor="start" fill="#111" font-weight="normal" stroke="#111" stroke-width="0.15" textLength="42.70" lengthAdjust="spacingAndGlyphs">CD3−CD56+</text>
</svg>
</body></html>
